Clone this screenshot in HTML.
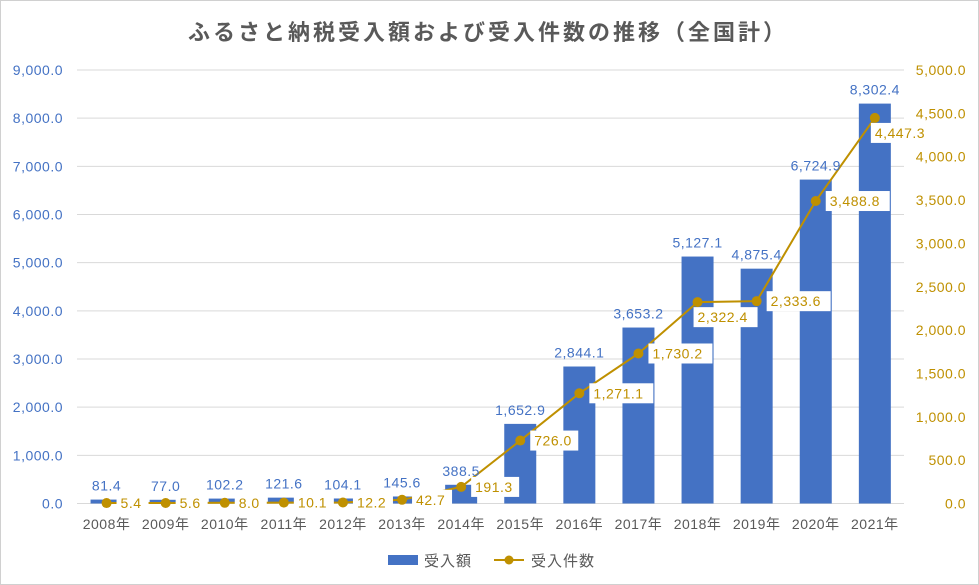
<!DOCTYPE html>
<html><head><meta charset="utf-8"><style>
body{margin:0;background:#fff;}
svg{display:block;font-family:"Liberation Sans","Noto Sans CJK JP",sans-serif;}
</style></head><body>
<svg id="c" width="979" height="585">
<rect x="0.5" y="0.5" width="978" height="584" fill="#fff" stroke="#d0d0d0"/>
<text x="488" y="40" text-anchor="middle" font-size="22" font-weight="bold" fill="#595959" letter-spacing="3">ふるさと納税受入額および受入件数の推移（全国計）</text>
<g id="grid"></g><g id="bars"></g><g id="line"></g><g id="labels"></g><g id="axes"></g>
<g>
<rect x="388" y="555" width="30" height="10" fill="#4472c4"/>
<text x="424" y="566" font-size="15" fill="#595959" letter-spacing="1">受入額</text>
<line x1="494" y1="560" x2="524" y2="560" stroke="#bf9000" stroke-width="2"/>
<circle cx="509" cy="560" r="4.5" fill="#bf9000"/>
<text x="531" y="566" font-size="15" fill="#595959" letter-spacing="1">受入件数</text>
</g>
</svg>
<script>
const categories=["2008年","2009年","2010年","2011年","2012年","2013年","2014年","2015年","2016年","2017年","2018年","2019年","2020年","2021年"];
const amounts=[81.4,77.0,102.2,121.6,104.1,145.6,388.5,1652.9,2844.1,3653.2,5127.1,4875.4,6724.9,8302.4];
const counts=[5.4,5.6,8.0,10.1,12.2,42.7,191.3,726.0,1271.1,1730.2,2322.4,2333.6,3488.8,4447.3];
const leftTicks=[0,1000,2000,3000,4000,5000,6000,7000,8000,9000];
const rightTicks=[0,500,1000,1500,2000,2500,3000,3500,4000,4500,5000];
const labelBelow=[false,false,false,false,false,false,false,false,false,false,true,false,false,true];
const NS="http://www.w3.org/2000/svg";
const y0=503.5,yTop=70,xStart=77,step=59.1;
const yL=v=>y0-(v/9000)*(y0-yTop);
const yR=v=>y0-(v/5000)*(y0-yTop);
const xC=i=>xStart+step*(i+0.5);
const fmt=v=>v.toLocaleString("en-US",{minimumFractionDigits:1,maximumFractionDigits:1});
function mk(tag,attrs,parent,text){const e=document.createElementNS(NS,tag);for(const k in attrs)e.setAttribute(k,attrs[k]);if(text!==undefined)e.textContent=text;document.getElementById(parent).appendChild(e);return e;}
leftTicks.forEach(v=>{
 const g=mk("line",{x1:77,x2:904,y1:yL(v),y2:yL(v),stroke:"#d9d9d9","stroke-width":1},"grid");
 
 
 const t=mk("text",{x:63,y:yL(v)+5,"text-anchor":"end","font-size":14,"letter-spacing":0.5,fill:"#4472c4"},"axes",fmt(v));
 
 
});
rightTicks.forEach(v=>{
 const t=mk("text",{x:966,y:yR(v)+5,"text-anchor":"end","font-size":14,"letter-spacing":0.5,fill:"#bf9000"},"axes",fmt(v));
 
 
});
categories.forEach((c,i)=>{
 const t=mk("text",{x:xC(i),y:529,"text-anchor":"middle","font-size":14,"letter-spacing":0.5,fill:"#595959"},"axes",c);
 
 
 const bw=32,h=y0-yL(amounts[i]);
 const b=mk("rect",{x:xC(i)-bw/2,y:yL(amounts[i]),width:bw,height:h,fill:"#4472c4"},"bars");
 
 
 const bl=mk("text",{x:xC(i),y:yL(amounts[i])-9,"text-anchor":"middle","font-size":14,"letter-spacing":0.5,fill:"#4472c4"},"labels",fmt(amounts[i]));
 
 
});
const pts=counts.map((v,i)=>xC(i)+","+yR(v)).join(" ");
const pl=mk("polyline",{points:pts,fill:"none",stroke:"#bf9000","stroke-width":2},"line");


counts.forEach((v,i)=>{
 const m=mk("circle",{cx:xC(i),cy:yR(v),r:5,fill:"#bf9000"},"line");
 
 
 const txt=fmt(v);
 const w=txt.length*8+8;
 let lx=xC(i)+10,ly=yR(v)-10;
 if(labelBelow[i]){lx=xC(i)-4;ly=yR(v)+5;}
 const r=mk("rect",{x:lx,y:ly,width:w,height:20,fill:"#fff"},"labels");
 
 
 const t=mk("text",{x:lx+4,y:ly+15,"font-size":14,"letter-spacing":0.5,fill:"#bf9000"},"labels",txt);
 
 
});
</script>
</body></html>
